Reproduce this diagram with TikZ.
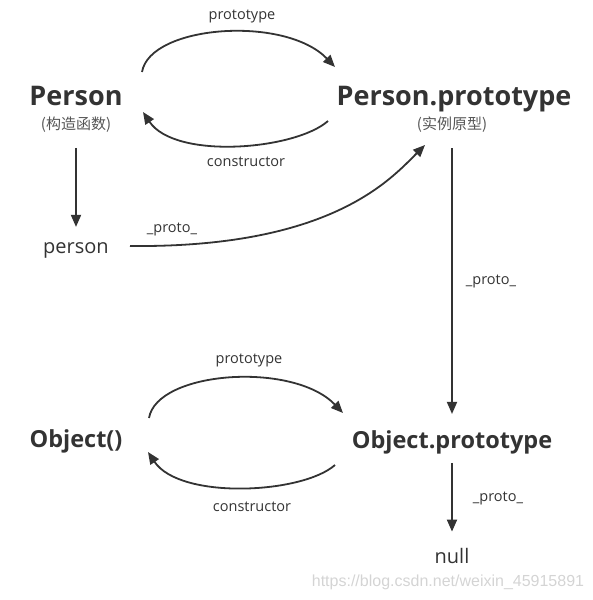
\documentclass[tikz,border=0pt]{standalone}
\usepackage{fontspec}
\setmainfont{Open Sans}
\newfontfamily\cjk{Noto Sans CJK SC}
\newfontfamily\wmfont{Liberation Sans}
\usetikzlibrary{arrows.meta}
\definecolor{inkgray}{RGB}{51, 51, 51}
\definecolor{subgray}{RGB}{85, 85, 85}
\definecolor{markgray}{RGB}{212, 212, 212}
\tikzset{
  bigname/.style   = {inner sep=0pt, anchor=base, text=inkgray, font=\fontsize{27}{30}\selectfont\bfseries},
  midname/.style   = {inner sep=0pt, anchor=base, text=inkgray, font=\fontsize{23.5}{27}\selectfont\bfseries},
  plainname/.style = {inner sep=0pt, anchor=base, text=inkgray, font=\fontsize{20}{24}\selectfont},
  subname/.style   = {inner sep=0pt, text=subgray, font=\fontsize{15}{17}\selectfont\cjk},
  linklabel/.style = {inner sep=0pt, text=inkgray, font=\fontsize{14.5}{16}\selectfont},
  link/.style      = {-{Triangle[length=12pt, width=10pt]}, line width=1.8pt, draw=inkgray},
  wmark/.style     = {inner sep=0pt, text=markgray, font=\fontsize{16}{18}\selectfont\wmfont},
}

\begin{document}
\begin{tikzpicture}[x=1pt, y=-1pt]

\useasboundingbox (0,0) rectangle (592,600);

% === 上: Person 与原型 ===
\node[bigname] (P) at (76,105) {Person};
\node[subname] (Ps) at (76,125) {(构造函数)};
\node[bigname] (PP) at (454,105) {Person.prototype};
\node[subname] (PPs) at (452,125) {(实例原型)};
\node[plainname] (p) at (76,253) {person};

% === 下: Object 与原型 ===
\node[midname] (O) at (76,447) {Object()};
\node[midname] (OP) at (452,448) {Object.prototype};
\node[plainname] (nl) at (452,563) {null};

% 连线标注
\node[linklabel] (lpt1) at (242,16) {prototype};
\node[linklabel] (lct1) at (246,162) {constructor};
\node[linklabel] (lpr1) at (172,229) {\_proto\_};
\node[linklabel] (lpr2) at (491,281) {\_proto\_};
\node[linklabel] (lpt2) at (249,360) {prototype};
\node[linklabel] (lct2) at (252,507) {constructor};
\node[linklabel] (lpr3) at (498,498) {\_proto\_};

% Person <-> Person.prototype
\draw[link] ([shift={(66,-33)}]P.base) .. controls +(8,-47) and +(-50,-52) .. ([shift={(-119,-38)}]PP.base);
\draw[link] ([shift={(-126,16)}]PP.base) .. controls +(-33,29) and +(32,48) .. ([shift={(67,7)}]P.base);

% 实例
\draw[link, shorten <=15pt, shorten >=15pt] (Ps.south) -- (p.north);
\draw[link] ([shift={(54,-7)}]p.base) .. controls +(200,2) and +(-35,35) .. ([shift={(-29,40)}]PP.base);

% 原型链
\draw[link, shorten <=15pt, shorten >=16pt] (PPs.south) -- (OP.north);

% Object() <-> Object.prototype
\draw[link] ([shift={(73,-29)}]O.base) .. controls +(8,-47) and +(-50,-52) .. ([shift={(-109,-35)}]OP.base);
\draw[link] ([shift={(-117,17)}]OP.base) .. controls +(-33,29) and +(32,48) .. ([shift={(72,5)}]O.base);

\draw[link, shorten <=9pt, shorten >=16pt] (OP.south) -- (nl.north);

% 水印
\node[wmark] (wm) at (448,582) {https://blog.csdn.net/weixin\_45915891};

\end{tikzpicture}
\end{document}
